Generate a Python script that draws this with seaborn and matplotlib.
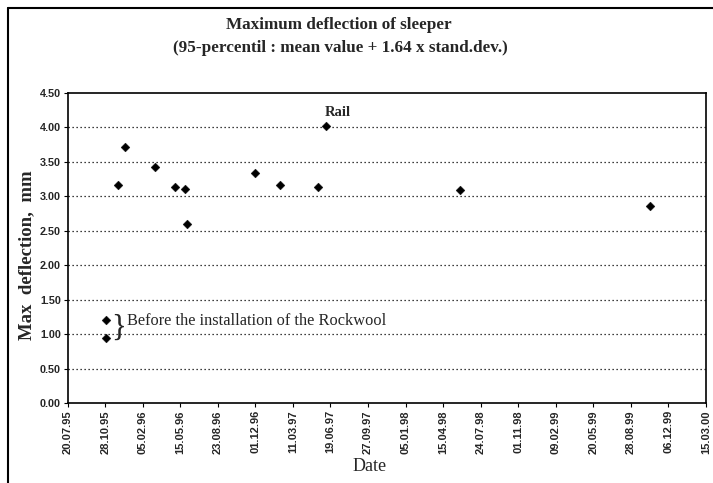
import matplotlib
matplotlib.use("Agg")
import matplotlib.pyplot as plt
import seaborn as sns
import pandas as pd
from matplotlib.lines import Line2D

# ---- data ----
dates = ["1995-10-29", "1995-10-29", "1995-12-01", "1995-12-19", "1996-03-09",
         "1996-05-02", "1996-05-27", "1996-06-01", "1996-12-01", "1997-02-04",
         "1997-05-16", "1997-06-07", "1998-05-30", "1999-10-19"]
deflection = [1.21, 0.95, 3.16, 3.71, 3.42, 3.14, 3.10, 2.60, 3.34, 3.16,
              3.14, 4.02, 3.09, 2.86]
x_tick_labels = ["20.07.95", "28.10.95", "05.02.96", "15.05.96", "23.08.96",
                 "01.12.96", "11.03.97", "19.06.97", "27.09.97", "05.01.98",
                 "15.04.98", "24.07.98", "01.11.98", "09.02.99", "20.05.99",
                 "28.08.99", "06.12.99", "15.03.00"]
y_ticks = [0.0, 0.5, 1.0, 1.5, 2.0, 2.5, 3.0, 3.5, 4.0, 4.5]

df = pd.DataFrame({"Date": pd.to_datetime(dates), "Max deflection": deflection})
tick_dates = pd.to_datetime(x_tick_labels, format="%d.%m.%y")

sns.set_style("white")
plt.rcParams["font.family"] = ["Liberation Serif", "DejaVu Serif"]

fig = plt.figure(figsize=(7.13, 4.83), dpi=100)
ax = fig.add_axes([0.095, 0.165, 0.895, 0.643])

sns.scatterplot(data=df, x="Date", y="Max deflection", ax=ax, marker="D",
                color="black", s=20, edgecolor="black", linewidth=0.3, zorder=3)

ax.set_xlim(tick_dates[0], tick_dates[-1])
ax.set_ylim(0, 4.5)
ax.set_xticks(tick_dates)
ax.set_xticklabels(x_tick_labels, rotation=90, fontsize=8, fontweight="bold",
                   family="Liberation Sans")
ax.set_yticks(y_ticks)
ax.set_yticklabels([f"{v:.2f}" for v in y_ticks], fontsize=7.8, fontweight="bold",
                   family="Liberation Sans")
ax.tick_params(axis="both", direction="out", length=3, width=0.8, color="black",
               pad=2, bottom=True, left=True)

for v in y_ticks[1:-1]:
    ax.axhline(v, color="black", linestyle=(0, (1, 2.2)), linewidth=0.9, zorder=1)

for sp in ax.spines.values():
    sp.set_color("black")
    sp.set_linewidth(1.2)

ax.set_xlabel("")
ax.set_ylabel("")

fig.text(0.475, 0.948, "Maximum deflection of sleeper", ha="center", va="center",
         fontsize=12.3, fontweight="bold")
fig.text(0.477, 0.900, "(95-percentil : mean value + 1.64 x stand.dev.)", ha="center",
         va="center", fontsize=12.3, fontweight="bold")
fig.text(0.038, 0.472, "Max  deflection,  mm", rotation=90, ha="center", va="center",
         fontsize=13.5, fontweight="bold")
fig.text(0.519, 0.035, "Date", ha="center", va="center", fontsize=13)

ax.text(pd.Timestamp("1997-07-09"), 4.22, "Rail", ha="center", va="center",
        fontsize=10.5, fontweight="bold")
ax.text(pd.Timestamp("1995-11-13"), 1.08, "}", ha="left", va="center",
        fontsize=22)
ax.text(pd.Timestamp("1995-12-24"), 1.19, "Before the installation of the Rockwool",
        ha="left", va="center", fontsize=11.8)

# outer frame of the original figure (left and top edges)
fig.add_artist(Line2D([8 / 713, 8 / 713], [0, 1 - 8 / 483], transform=fig.transFigure,
                      color="black", linewidth=1.5))
fig.add_artist(Line2D([8 / 713, 1], [1 - 8 / 483, 1 - 8 / 483], transform=fig.transFigure,
                      color="black", linewidth=1.5))

fig.savefig("out.png", dpi=100)
